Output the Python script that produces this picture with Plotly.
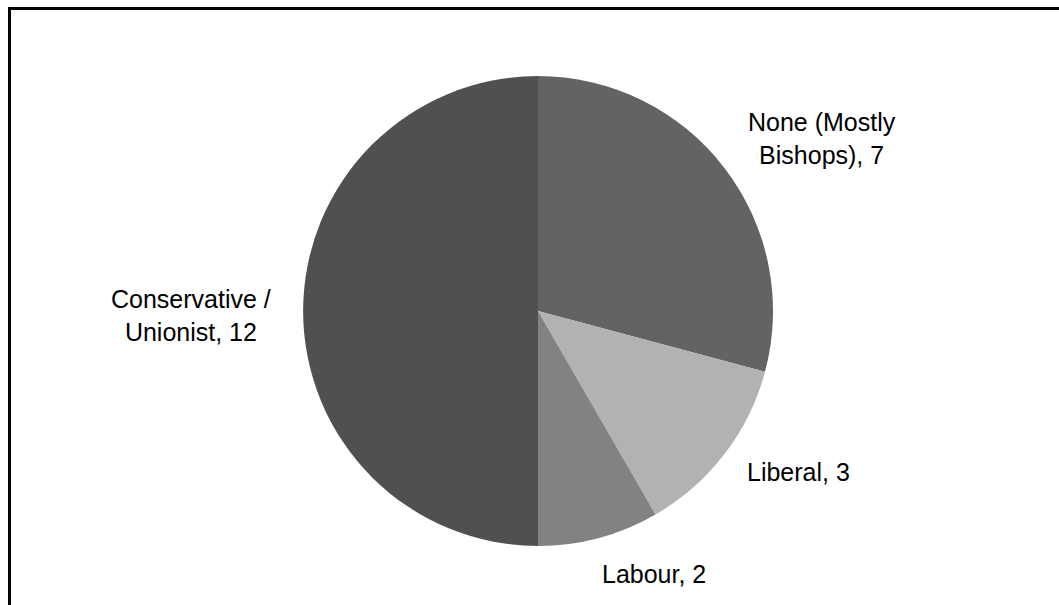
import plotly.graph_objects as go

labels = ["None (Mostly Bishops)", "Liberal", "Labour", "Conservative / Unionist"]
values = [7, 3, 2, 12]
label_text = ["None (Mostly<br>Bishops), 7", "Liberal, 3", "Labour, 2", "Conservative /<br>Unionist, 12"]
colors = ["#636363", "#b2b2b2", "#828282", "#505050"]

W, H = 1059, 605
cx, cy, r = 538, 311, 235

fig = go.Figure(go.Pie(
    labels=labels, values=values, sort=False, direction="clockwise", rotation=0,
    marker=dict(colors=colors, line=dict(width=0)),
    textinfo="none", hoverinfo="label+value", showlegend=False,
    domain=dict(x=[(cx - r) / W, (cx + r) / W], y=[1 - (cy + r) / H, 1 - (cy - r) / H]),
))

label_pos = [(822, 139), (798, 472), (654, 574), (191, 315)]
for txt, (px, py) in zip(label_text, label_pos):
    fig.add_annotation(text=txt, x=px / W, y=1 - py / H, xref="paper", yref="paper",
                       showarrow=False, xanchor="center", yanchor="middle",
                       font=dict(size=25, color="black", family="Arial, Liberation Sans"))

fig.add_shape(type="rect", xref="paper", yref="paper",
              x0=9.5 / W, x1=1.02, y0=-0.02, y1=1 - 8.5 / H,
              line=dict(color="black", width=3), fillcolor="rgba(0,0,0,0)")

fig.update_layout(width=W, height=H, margin=dict(l=0, r=0, t=0, b=0),
                  paper_bgcolor="white", plot_bgcolor="white",
                  font=dict(family="Arial, Liberation Sans"))
fig.write_html("out.html")
